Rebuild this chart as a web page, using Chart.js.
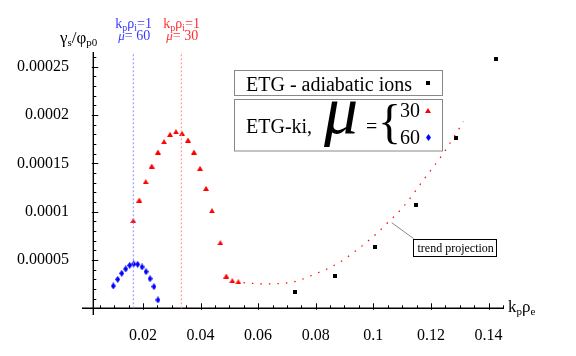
<!DOCTYPE html>
<html>
<head>
<meta charset="utf-8">
<script src="https://cdn.jsdelivr.net/npm/chart.js@4.4.0/dist/chart.umd.min.js"></script>
<style>
  html, body { margin: 0; padding: 0; background: #fff; }
</style>
</head>
<body>
<canvas id="chart" width="576" height="356"></canvas>
<script>
// ETG - adiabatic ions (black squares)
const adiabaticX = [0.0728, 0.0867, 0.1006, 0.1147, 0.1287, 0.1426];
const adiabaticY = [0.0000172, 0.0000337, 0.0000638, 0.0001069, 0.0001760, 0.0002581];

// ETG-ki, mu = 30 (red triangles)
const mu30X = [0.01667, 0.01875, 0.02097, 0.02306, 0.02524, 0.02733, 0.02941, 0.03149, 0.03358,
               0.03566, 0.03774, 0.03983, 0.04191, 0.04399, 0.04688, 0.04896, 0.05104, 0.05313];
const mu30Y = [0.0000907, 0.0001121, 0.0001311, 0.0001473, 0.0001618, 0.0001725, 0.0001801, 0.0001828, 0.0001812,
               0.0001742, 0.0001618, 0.0001449, 0.0001242, 0.0001010, 0.0000679, 0.0000334, 0.0000286, 0.0000275];

// ETG-ki, mu = 60 (blue diamonds)
const mu60X = [0.00972, 0.01125, 0.01264, 0.01403, 0.01542, 0.01681, 0.01819, 0.01969, 0.02108, 0.02247, 0.02385, 0.02524];
const mu60Y = [0.0000231, 0.0000300, 0.0000362, 0.0000407, 0.0000445, 0.0000459, 0.0000455, 0.0000428, 0.0000379, 0.0000306, 0.0000224, 0.0000086];

// trend projection (red dotted)
const trendX = [0.0549, 0.0618, 0.0722, 0.0803, 0.0873, 0.0942, 0.1012, 0.1047, 0.1104, 0.1174, 0.1243, 0.1313];
const trendY = [0.0000265, 0.0000252, 0.0000273, 0.0000362, 0.0000458, 0.0000602, 0.0000775, 0.0000878, 0.0001050, 0.0001328, 0.0001604, 0.0001932];

// k_p rho_i = 1  ->  k_p rho_e = 1/mu
const muValues = [60, 30];
const kpRhoI1 = [1 / 60, 1 / 30];

const xTicks = [0.02, 0.04, 0.06, 0.08, 0.1, 0.12, 0.14];
const yTicks = [0.00005, 0.0001, 0.00015, 0.0002, 0.00025];

const serif = '"Liberation Serif", "DejaVu Serif", serif';
const axisX = 0.00278; // where the vertical axis crosses
Chart.defaults.font.family = serif;

const pts = (xs, ys) => xs.map((x, i) => ({ x: x, y: ys[i] }));

function marker(w, h, color, shape) {
    const c = document.createElement('canvas');
    c.width = w; c.height = h;
    const g = c.getContext('2d');
    g.fillStyle = color;
    g.beginPath();
    if (shape === 'tri') {
        g.moveTo(w / 2, 0); g.lineTo(w, h); g.lineTo(0, h);
    } else if (shape === 'dia') {
        g.moveTo(w / 2, 0); g.lineTo(w, h / 2); g.lineTo(w / 2, h); g.lineTo(0, h / 2);
    } else {
        g.rect(0, 0, w, h);
    }
    g.closePath();
    g.fill();
    return c;
}
const triRed = marker(6, 5, '#ff0000', 'tri');
const diaBlue = marker(5, 7, '#0000ff', 'dia');
const sqBlack = marker(4, 4, '#000000', 'sq');

function runs(ctx, x, y, parts) {
    for (const [t, f, dy] of parts) {
        ctx.font = f;
        ctx.fillText(t, x, y + (dy || 0));
        x += ctx.measureText(t).width;
    }
    return x;
}

function isTick(v, list) {
    return list.some(t => Math.abs(t - v) < 1e-9);
}

const decor = {
    id: 'decor',
    beforeDatasetsDraw(chart) {
        const ctx = chart.ctx, xs = chart.scales.x, ys = chart.scales.y, area = chart.chartArea;
        const ax = xs.getPixelForValue(axisX), ay = ys.getPixelForValue(0);
        ctx.save();
        ctx.strokeStyle = '#000';
        ctx.lineWidth = 1.4;
        ctx.beginPath();
        ctx.moveTo(area.left, ay); ctx.lineTo(area.right, ay);
        ctx.moveTo(ax, area.top); ctx.lineTo(ax, area.bottom);
        ctx.stroke();
        ctx.lineWidth = 1;
        ctx.beginPath();
        for (let i = 1; i <= 26; i++) {
            const py = Math.round(ys.getPixelForValue(i * 0.00001)) + 0.5;
            const len = i % 5 === 0 ? 5 : 3;
            ctx.moveTo(ax - (i % 5 === 0 ? 1.5 : 0), py); ctx.lineTo(ax + len, py);
        }
        for (let i = 1; i <= 29; i++) {
            const px = Math.round(xs.getPixelForValue(i * 0.005)) + 0.5;
            const len = i % 4 === 0 ? 5 : 3;
            ctx.moveTo(px, ay + (i % 4 === 0 ? 1.5 : 0)); ctx.lineTo(px, ay - len);
        }
        ctx.stroke();
        ctx.restore();
    },
    afterDraw(chart) {
        const ctx = chart.ctx, xs = chart.scales.x, ys = chart.scales.y;
        ctx.save();
        ctx.textBaseline = 'alphabetic';
        ctx.fillStyle = '#000';

        // axis labels
        runs(ctx, 60, 43, [['γ', '17px ' + serif], ['s', '11px ' + serif, 3], ['/', '17px ' + serif],
            ['φ', '17px ' + serif], ['p0', '11px ' + serif, 3]]);
        runs(ctx, 508, 312, [['k', '17px ' + serif], ['p', '11px ' + serif, 3], ['ρ', '17px ' + serif],
            ['e', '11px ' + serif, 3]]);

        // k_p rho_i = 1 annotations
        const annColors = ['#3a3aff', '#ff3030'];
        kpRhoI1.forEach((v, i) => {
            const px = xs.getPixelForValue(v);
            ctx.fillStyle = annColors[i];
            runs(ctx, px - 18, 28, [['k', '14px ' + serif], ['p', '10px ' + serif, 3], ['ρ', '14px ' + serif],
                ['i', '10px ' + serif, 3], ['=1', '14px ' + serif]]);
            runs(ctx, px - 15, 40, [['μ', 'italic 13px ' + serif], ['= ' + muValues[i], '14px ' + serif]]);
        });

        // legend boxes
        ctx.strokeStyle = '#888';
        ctx.lineWidth = 1;
        ctx.strokeRect(234.5, 70.5, 208, 25);
        ctx.strokeRect(234.5, 99.5, 208, 51.5);
        ctx.fillStyle = '#000';
        ctx.font = '20px ' + serif;
        ctx.fillText('ETG - adiabatic ions', 246, 91);
        ctx.drawImage(sqBlack, 426, 81);
        ctx.fillText('ETG-ki,', 246, 133);
        ctx.font = 'italic 68px ' + serif;
        ctx.fillText('μ', 324, 133);
        ctx.font = '20px ' + serif;
        ctx.fillText('=', 366, 133);
        ctx.font = '48px ' + serif;
        ctx.fillText('{', 378, 138);
        ctx.font = '20px ' + serif;
        ctx.fillText('30', 400, 117);
        ctx.fillText('60', 400, 144);
        ctx.drawImage(triRed, 425, 108);
        ctx.drawImage(diaBlue, 426, 134);

        // trend projection callout
        const tipX = xs.getPixelForValue(0.1064), tipY = ys.getPixelForValue(0.0000886);
        ctx.strokeStyle = '#888';
        ctx.beginPath();
        ctx.moveTo(tipX, tipY); ctx.lineTo(413.5, 238.5);
        ctx.stroke();
        ctx.strokeStyle = '#000';
        ctx.fillStyle = '#fff';
        ctx.fillRect(413.5, 239.5, 83, 17);
        ctx.strokeRect(413.5, 239.5, 83, 17);
        ctx.fillStyle = '#000';
        ctx.font = '12px ' + serif;
        ctx.fillText('trend projection', 417.5, 252);
        ctx.restore();
    }
};

const areaTop = 52, areaBottom = 315, areaLeft = 82, areaRight = 504;
const xMin = (areaLeft - 85.3) / 2880, xMax = (areaRight - 85.3) / 2880;
const yMax = (308.3 - areaTop) * 1.0352e-6, yMin = (308.3 - areaBottom) * 1.0352e-6;

new Chart(document.getElementById('chart'), {
    type: 'scatter',
    data: {
        datasets: [
            {
                type: 'line', data: [{ x: kpRhoI1[0], y: 0 }, { x: kpRhoI1[0], y: yMax }],
                borderColor: '#8a8aff', borderWidth: 1, borderDash: [2, 2], pointRadius: 0
            },
            {
                type: 'line', data: [{ x: kpRhoI1[1], y: 0 }, { x: kpRhoI1[1], y: yMax }],
                borderColor: '#ff8a8a', borderWidth: 1, borderDash: [2, 2], pointRadius: 0
            },
            {
                type: 'line', data: pts(trendX, trendY), borderColor: '#ff0000', borderWidth: 1.2,
                borderDash: [1.5, 7], cubicInterpolationMode: 'monotone', pointRadius: 0
            },
            { data: pts(mu30X, mu30Y), pointStyle: triRed, pointRadius: 3 },
            { data: pts(mu60X, mu60Y), pointStyle: diaBlue, pointRadius: 3 },
            { data: pts(adiabaticX, adiabaticY), pointStyle: sqBlack, pointRadius: 3 }
        ]
    },
    options: {
        responsive: false,
        animation: false,
        layout: { padding: { top: areaTop, right: 576 - areaRight, left: 0, bottom: 0 } },
        plugins: { legend: { display: false }, tooltip: { enabled: false } },
        scales: {
            x: {
                type: 'linear', min: xMin, max: xMax,
                grid: { display: false }, border: { display: false },
                afterFit: s => { s.height = 356 - areaBottom; },
                ticks: {
                    stepSize: 0.02, includeBounds: false, autoSkip: false, maxRotation: 0, padding: 3, color: '#000',
                    font: { family: serif, size: 16 },
                    callback: v => isTick(v, xTicks) ? String(Number(v.toPrecision(6))) : ''
                }
            },
            y: {
                type: 'linear', min: yMin, max: yMax,
                grid: { display: false }, border: { display: false },
                afterFit: s => { s.width = areaLeft; },
                ticks: {
                    stepSize: 0.00005, includeBounds: false, autoSkip: false, padding: 5, color: '#000',
                    font: { family: serif, size: 16 },
                    callback: v => isTick(v, yTicks) ? String(Number(v.toPrecision(6))) : ''
                }
            }
        }
    },
    plugins: [decor]
});
</script>
</body>
</html>
